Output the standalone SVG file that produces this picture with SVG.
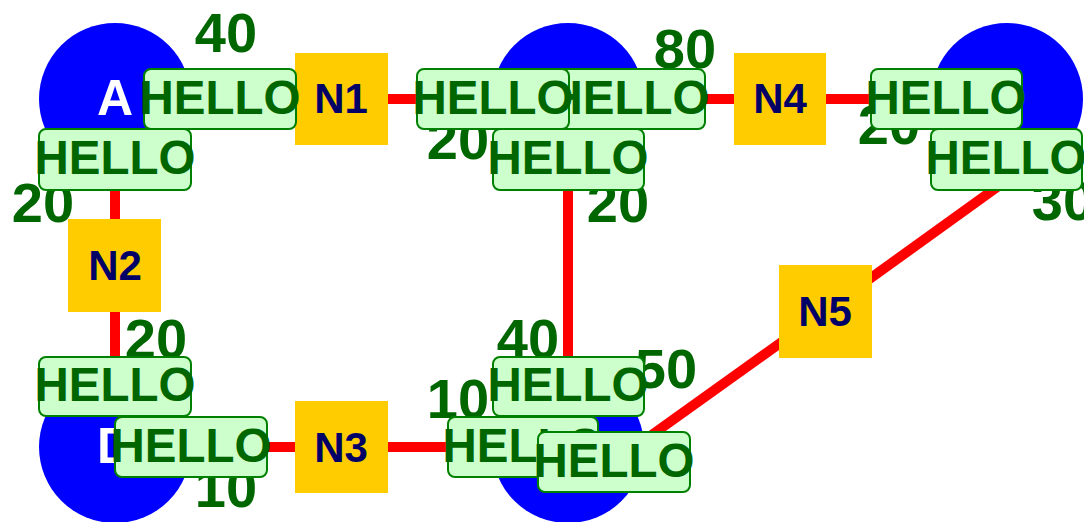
<svg xmlns="http://www.w3.org/2000/svg" width="1084" height="522" viewBox="0 0 1084 522">
  <style>
    .edge { stroke: #ff0000; stroke-width: 10; fill: none; }
    .circ { fill: #0000ff; }
    .circ-t { fill: #ffffff; font-family: "Liberation Sans", Arial, sans-serif; font-weight: bold; font-size: 50px; text-anchor: middle; }
    .box { fill: #ffcc00; }
    .box-t { fill: #000066; font-family: "Liberation Sans", Arial, sans-serif; font-weight: bold; font-size: 42px; text-anchor: middle; }
    .num { fill: #006600; font-family: "Liberation Sans", Arial, sans-serif; font-weight: bold; font-size: 56px; text-anchor: middle; }
    .lbl rect { fill: #ccffcc; stroke: #008000; stroke-width: 2; }
    .lbl text { fill: #006600; font-family: "Liberation Sans", Arial, sans-serif; font-weight: bold; font-size: 47.5px; text-anchor: middle; }
  </style>

  <!-- connectors -->
  <g id="edges">
    <line class="edge" x1="115" y1="99" x2="341" y2="99"/>
    <line class="edge" x1="341" y1="99" x2="568" y2="99"/>
    <line class="edge" x1="568" y1="99" x2="780" y2="99"/>
    <line class="edge" x1="780" y1="99" x2="1007" y2="99"/>
    <line class="edge" x1="115" y1="99" x2="115" y2="265"/>
    <line class="edge" x1="115" y1="265" x2="115" y2="447"/>
    <line class="edge" x1="115" y1="447" x2="341" y2="447"/>
    <line class="edge" x1="341" y1="447" x2="568" y2="447"/>
    <line class="edge" x1="568" y1="99" x2="568" y2="447"/>
    <line class="edge" x1="600" y1="472" x2="825" y2="311"/>
    <line class="edge" x1="825" y1="311" x2="1000" y2="185"/>
  </g>

  <!-- round nodes -->
  <g id="node-A"><circle class="circ" cx="115" cy="99" r="76"/><text class="circ-t" x="115" y="115">A</text></g>
  <g id="node-B"><circle class="circ" cx="568" cy="99" r="76"/></g>
  <g id="node-C"><circle class="circ" cx="1007" cy="99" r="76"/></g>
  <g id="node-D"><circle class="circ" cx="115" cy="447" r="76"/><text class="circ-t" x="115" y="463">D</text></g>
  <g id="node-E"><circle class="circ" cx="568" cy="447" r="76"/></g>

  <!-- square nodes -->
  <g id="node-N1"><rect class="box" x="295" y="53" width="93" height="92"/><text class="box-t" x="341" y="113">N1</text></g>
  <g id="node-N2"><rect class="box" x="68" y="219" width="93" height="93"/><text class="box-t" x="115" y="280">N2</text></g>
  <g id="node-N3"><rect class="box" x="295" y="401" width="93" height="92"/><text class="box-t" x="341" y="462">N3</text></g>
  <g id="node-N4"><rect class="box" x="734" y="53" width="92" height="92"/><text class="box-t" x="780" y="113">N4</text></g>
  <g id="node-N5"><rect class="box" x="779" y="265" width="93" height="93"/><text class="box-t" x="825" y="326">N5</text></g>

  <!-- edge weights -->
  <g id="weights">
    <text class="num" x="226" y="52">40</text>
    <text class="num" x="43" y="222">20</text>
    <text class="num" x="458" y="159">20</text>
    <text class="num" x="685" y="68">80</text>
    <text class="num" x="618" y="222">20</text>
    <text class="num" x="889" y="144">20</text>
    <text class="num" x="1063" y="220">30</text>
    <text class="num" x="156" y="358">20</text>
    <text class="num" x="226" y="507">10</text>
    <text class="num" x="528" y="358">40</text>
    <text class="num" x="458" y="418">10</text>
    <text class="num" x="666" y="388">50</text>
  </g>

  <!-- edge end labels -->
  <g id="labels">
    <g class="lbl"><rect x="144" y="69" width="152" height="60" rx="7"/><text x="220" y="114">HELLO</text></g>
    <g class="lbl"><rect x="39" y="129" width="152" height="61" rx="7"/><text x="115" y="174">HELLO</text></g>
    <g class="lbl"><rect x="553" y="69" width="152" height="60" rx="7"/><text x="629" y="114">HELLO</text></g>
    <g class="lbl"><rect x="417" y="69" width="152" height="60" rx="7"/><text x="493" y="114">HELLO</text></g>
    <g class="lbl"><rect x="493" y="129" width="151" height="61" rx="7"/><text x="568" y="174">HELLO</text></g>
    <g class="lbl"><rect x="871" y="69" width="151" height="60" rx="7"/><text x="946" y="114">HELLO</text></g>
    <g class="lbl"><rect x="931" y="129" width="151" height="61" rx="7"/><text x="1006" y="174">HELLO</text></g>
    <g class="lbl"><rect x="39" y="357" width="152" height="59" rx="7"/><text x="115" y="401">HELLO</text></g>
    <g class="lbl"><rect x="115" y="417" width="152" height="60" rx="7"/><text x="191" y="462">HELLO</text></g>
    <g class="lbl"><rect x="493" y="357" width="151" height="59" rx="7"/><text x="568" y="401">HELLO</text></g>
    <g class="lbl"><rect x="448" y="417" width="150" height="60" rx="7"/><text x="523" y="462">HELLO</text></g>
    <g class="lbl"><rect x="538" y="432" width="152" height="60" rx="7"/><text x="614" y="477">HELLO</text></g>
  </g>
</svg>
